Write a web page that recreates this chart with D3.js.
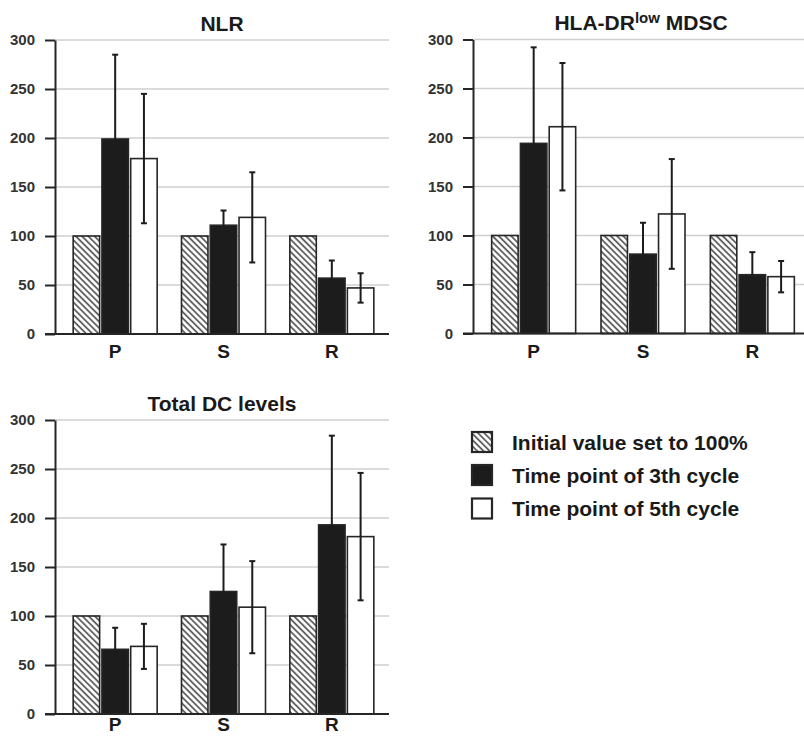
<!DOCTYPE html>
<html>
<head>
<meta charset="utf-8">
<script src="https://cdn.jsdelivr.net/npm/d3@7"></script>
<style>
  html, body { margin: 0; padding: 0; background: #fff; }
  svg { display: block; font-family: "Liberation Sans", Arial, Helvetica, sans-serif; }
</style>
</head>
<body>
<svg id="chart" width="804" height="737"></svg>
<script>
// ---------- data ----------
const categories = ["P", "S", "R"];
const seriesNames = ["Initial value set to 100%", "Time point of 3th cycle", "Time point of 5th cycle"];
const yTicks = [0, 50, 100, 150, 200, 250, 300];

const nlrInitial = [100, 100, 100];
const nlrCycle3  = [199, 111, 57];
const nlrSd3     = [86, 15, 18];
const nlrCycle5  = [179, 119, 47];
const nlrSd5     = [66, 46, 15];

const mdscInitial = [100, 100, 100];
const mdscCycle3  = [194, 81, 60];
const mdscSd3     = [98, 32, 23];
const mdscCycle5  = [211, 122, 58];
const mdscSd5     = [65, 56, 16];

const dcInitial = [100, 100, 100];
const dcCycle3  = [66, 125, 193];
const dcSd3     = [22, 48, 91];
const dcCycle5  = [69, 109, 181];
const dcSd5     = [23, 47, 65];

// ---------- drawing ----------
const svg = d3.select("#chart");
const defs = svg.append("defs");
const pat = defs.append("pattern")
  .attr("id", "hatch")
  .attr("patternUnits", "userSpaceOnUse")
  .attr("width", 4.4).attr("height", 4.4)
  .attr("patternTransform", "rotate(-45)");
pat.append("rect").attr("width", 4.4).attr("height", 4.4).attr("fill", "#fff");
pat.append("line").attr("x1", 1).attr("y1", 0).attr("x2", 1).attr("y2", 4.4)
  .attr("stroke", "#555").attr("stroke-width", 1.7);

const fills = ["url(#hatch)", "#1c1c1c", "#ffffff"];
const dark = "#262626";

function drawPanel(p) {
  const g = svg.append("g");
  const y = d3.scaleLinear().domain([0, 300]).range([p.y0, p.y300]);
  const x0 = d3.scaleBand().domain(categories).range(p.xRange).padding(0);
  const x1 = d3.scaleBand().domain([0, 1, 2]).range([-42, 42]).paddingInner(0.08);

  // gridlines
  g.append("g").selectAll("line")
    .data(yTicks.filter(t => t > 0))
    .join("line")
    .attr("x1", p.axisX).attr("x2", p.gridEnd)
    .attr("y1", d => y(d)).attr("y2", d => y(d))
    .attr("stroke", "#cfcfcf").attr("stroke-width", 1.5);

  // y axis
  const ya = g.append("g")
    .attr("transform", `translate(${p.axisX},0)`)
    .call(d3.axisLeft(y).tickValues(yTicks).tickSize(10).tickSizeOuter(0).tickPadding(10));
  ya.select(".domain").attr("stroke", dark).attr("stroke-width", 2);
  ya.selectAll(".tick line").attr("stroke", dark).attr("stroke-width", 2);
  ya.selectAll(".tick text")
    .attr("fill", "#333").attr("font-size", 15).attr("font-weight", "bold")
    .attr("font-family", "'Liberation Sans', Arial, sans-serif");

  // bars
  const series = [p.initial, p.c3, p.c5];
  const sds = [null, p.sd3, p.sd5];
  categories.forEach((c, ci) => {
    const gx = x0(c) + x0.bandwidth() / 2;
    series.forEach((vals, si) => {
      const bx = gx + x1(si);
      g.append("rect")
        .attr("x", bx).attr("y", y(vals[ci]))
        .attr("width", x1.bandwidth()).attr("height", y(0) - y(vals[ci]))
        .attr("fill", fills[si]).attr("stroke", dark).attr("stroke-width", 1.6);
    });
  });

  // error bars
  categories.forEach((c, ci) => {
    const gx = x0(c) + x0.bandwidth() / 2;
    [1, 2].forEach(si => {
      const v = series[si][ci], e = sds[si][ci];
      const cx = gx + x1(si) + x1.bandwidth() / 2;
      const eg = g.append("g").attr("stroke", "#1c1c1c").attr("stroke-width", 2);
      eg.append("line").attr("x1", cx).attr("x2", cx).attr("y1", y(v - e)).attr("y2", y(v + e));
      eg.append("line").attr("x1", cx - 3).attr("x2", cx + 3).attr("y1", y(v + e)).attr("y2", y(v + e));
      eg.append("line").attr("x1", cx - 3).attr("x2", cx + 3).attr("y1", y(v - e)).attr("y2", y(v - e));
    });
  });

  // baseline
  g.append("line")
    .attr("x1", p.axisX - 10).attr("x2", p.gridEnd)
    .attr("y1", y(0)).attr("y2", y(0))
    .attr("stroke", dark).attr("stroke-width", 2);

  // x axis labels
  const xa = g.append("g")
    .attr("transform", `translate(0,${y(0)})`)
    .call(d3.axisBottom(x0).tickSize(0).tickPadding(p.labelPad));
  xa.select(".domain").remove();
  xa.selectAll(".tick text")
    .attr("fill", "#1a1a1a").attr("font-size", 19).attr("font-weight", "bold")
    .attr("font-family", "'Liberation Sans', Arial, sans-serif");

  // title
  const t = g.append("text")
    .attr("x", p.titleX).attr("y", p.titleY)
    .attr("text-anchor", "middle")
    .attr("font-size", 21).attr("font-weight", "bold").attr("fill", "#1a1a1a");
  p.title.forEach(part => {
    const ts = t.append("tspan").text(part.text);
    if (part.sup) ts.attr("font-size", 15).attr("baseline-shift", "45%");
  });
}

drawPanel({
  title: [{ text: "NLR" }], titleX: 222, titleY: 31,
  axisX: 55, y0: 334, y300: 40, xRange: [61, 386], gridEnd: 389, labelPad: 11,
  initial: nlrInitial, c3: nlrCycle3, sd3: nlrSd3, c5: nlrCycle5, sd5: nlrSd5
});
drawPanel({
  title: [{ text: "HLA-DR" }, { text: "low", sup: true }, { text: " MDSC" }], titleX: 641, titleY: 30,
  axisX: 473, y0: 333.5, y300: 39.5, xRange: [479, 807], gridEnd: 804, labelPad: 11,
  initial: mdscInitial, c3: mdscCycle3, sd3: mdscSd3, c5: mdscCycle5, sd5: mdscSd5
});
drawPanel({
  title: [{ text: "Total DC levels" }], titleX: 222, titleY: 411,
  axisX: 55, y0: 714, y300: 420, xRange: [61, 386], gridEnd: 389, labelPad: 4,
  initial: dcInitial, c3: dcCycle3, sd3: dcSd3, c5: dcCycle5, sd5: dcSd5
});

// legend
const legend = svg.append("g");
const legendY = [442, 475, 508.5];
seriesNames.forEach((name, i) => {
  legend.append("rect")
    .attr("x", 472).attr("y", legendY[i] - 10)
    .attr("width", 20).attr("height", 20)
    .attr("fill", fills[i]).attr("stroke", dark).attr("stroke-width", 2.2);
  legend.append("text")
    .attr("x", 512).attr("y", legendY[i]).attr("dy", "0.36em")
    .attr("font-size", 21).attr("font-weight", "bold").attr("fill", "#1a1a1a")
    .text(name);
});
</script>
</body>
</html>
